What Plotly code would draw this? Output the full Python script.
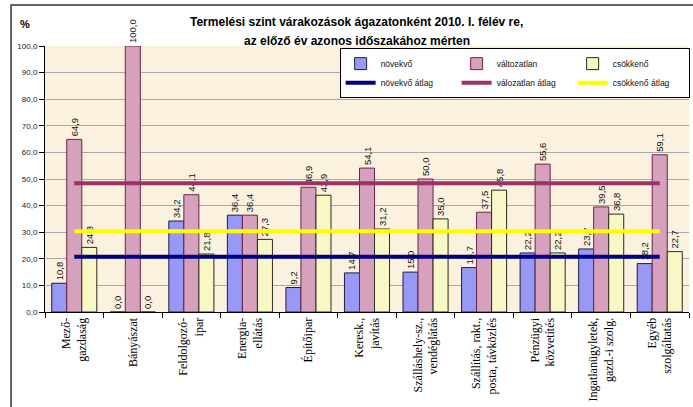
import plotly.graph_objects as go

categories = [
    "Mező-<br>gazdaság", "Bányászat", "Feldolgozó-<br>ipar", "Energia-<br>ellátás",
    "Építőipar", "Keresk.,<br>javítás", "Szálláshely-sz.,<br>vendéglátás",
    "Szállítás, rakt.,<br>posta, távközlés", "Pénzügyi<br>közvetítés",
    "Ingatlanügyletek,<br>gazd.-i szolg.", "Egyéb<br>szolgáltatás",
]
novekvo = [10.8, 0.0, 34.2, 36.4, 9.2, 14.7, 15.0, 16.7, 22.2, 23.7, 18.2]
valtozatlan = [64.9, 100.0, 44.1, 36.4, 46.9, 54.1, 50.0, 37.5, 55.6, 39.5, 59.1]
csokkeno = [24.3, 0.0, 21.8, 27.3, 43.9, 31.2, 35.0, 45.8, 22.2, 36.8, 22.7]

novekvo_atlag = 20.8
valtozatlan_atlag = 48.4
csokkeno_atlag = 30.4

bar_series = [
    ("növekvő", novekvo, "#9898F6", "#1E1E3C"),
    ("változatlan", valtozatlan, "#D6A1BC", "#6E2347"),
    ("csökkenő", csokkeno, "#F8F8C6", "#2A2A1E"),
]
line_series = [
    ("növekvő átlag", novekvo_atlag, "#000080"),
    ("válozatlan átlag", valtozatlan_atlag, "#993366"),
    ("csökkenő átlag", csokkeno_atlag, "#FFFF00"),
]

fig = go.Figure()
for name, vals, color, edge in bar_series:
    fig.add_trace(go.Bar(
        x=categories, y=vals, name=name,
        marker=dict(color=color, line=dict(color=edge, width=1)),
        texttemplate="%{y:.1f}", textposition="outside", textangle=-90,
        textfont=dict(family="Arial, Liberation Sans", size=9.5, color="#111"),
        constraintext="none", cliponaxis=False,
    ))
for name, val, color in line_series:
    fig.add_trace(go.Scatter(
        x=categories, y=[val] * len(categories), name=name,
        mode="lines", line=dict(color=color, width=4),
    ))

fig.update_layout(
    width=693, height=407,
    margin=dict(l=45, r=4, t=46, b=95, autoexpand=False),
    paper_bgcolor="white",
    plot_bgcolor="#FAF1DF",
    separators=", ",
    barmode="group", bargap=0.23, bargroupgap=0,
    font=dict(family="Arial, Liberation Sans", size=9, color="#111"),
    showlegend=True,
    legend=dict(
        orientation="h", x=1.001, xanchor="right", y=0.992, yanchor="top",
        entrywidth=71, bgcolor="white", bordercolor="black", borderwidth=1,
        font=dict(size=8.5), traceorder="normal",
    ),
    annotations=[
        dict(text="<b>Termelési szint várakozások ágazatonként 2010. I. félév re,</b>",
             x=0.4837, y=1.090, xref="paper", yref="paper", showarrow=False,
             xanchor="center", yanchor="middle",
             font=dict(size=12, color="black")),
        dict(text="<b>az előző év azonos időszakához mérten</b>",
             x=0.4837, y=1.019, xref="paper", yref="paper", showarrow=False,
             xanchor="center", yanchor="middle",
             font=dict(size=12, color="black")),
        dict(text="<b>%</b>", x=-0.031, y=1.083, xref="paper", yref="paper",
             showarrow=False, xanchor="center", yanchor="middle",
             font=dict(size=11, color="black")),
    ],
    shapes=[
        dict(type="rect", xref="paper", yref="paper", layer="above",
             x0=-0.0527, x1=1.2, y0=-0.5, y1=1.154,
             line=dict(color="#333", width=1.5)),
    ],
)
fig.update_yaxes(
    range=[0, 100], dtick=10, tickformat=".1f", automargin=False,
    showgrid=True, gridcolor="#A8A8A8", gridwidth=1,
    showline=True, linecolor="black", linewidth=1,
    ticks="outside", ticklen=5, tickcolor="black",
    tickfont=dict(size=8, color="#222"), zeroline=False,
)
fig.update_xaxes(
    tickangle=-90, tickson="boundaries", automargin=False,
    showline=True, linecolor="black", linewidth=1,
    ticks="outside", ticklen=5, tickcolor="black",
    tickfont=dict(family="Liberation Serif, Times New Roman", size=12, color="black"),
)

fig.write_html("out.html", config={"displayModeBar": False},
               post_script="document.body.style.margin = '0px';")
